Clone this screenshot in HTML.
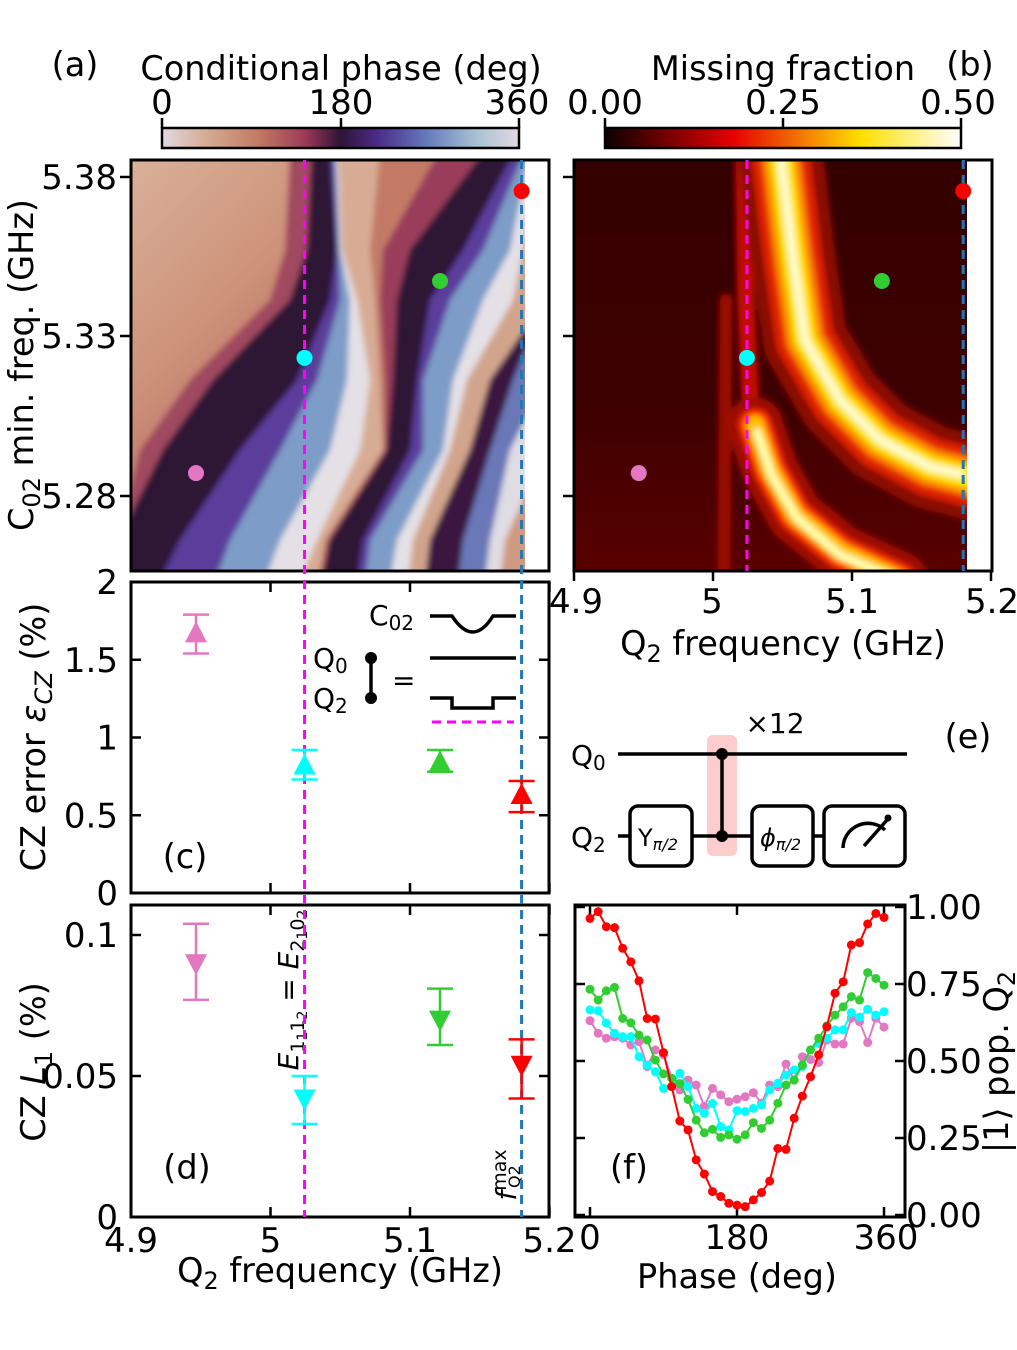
<!DOCTYPE html>
<html><head><meta charset="utf-8"><style>
html,body{margin:0;padding:0;background:#fff;}
svg{display:block;font-family:"DejaVu Sans","Liberation Sans",sans-serif;}
</style></head><body>
<svg id="fig" xmlns="http://www.w3.org/2000/svg" width="1017" height="1350" viewBox="0 0 1017 1350">
<defs>
<clipPath id="clipA"><rect x="131" y="160" width="394" height="411"/></clipPath>
<clipPath id="clipB"><rect x="574" y="160" width="393" height="411"/></clipPath>
<filter id="blur" x="-10%" y="-10%" width="120%" height="120%"><feGaussianBlur stdDeviation="3"/></filter>
<linearGradient id="cbA" x1="0" x2="1" y1="0" y2="0">
<stop offset="0" stop-color="#e2d9e2"/><stop offset="0.12" stop-color="#d6ac95"/><stop offset="0.27" stop-color="#c27a62"/>
<stop offset="0.4" stop-color="#9c3a58"/><stop offset="0.5" stop-color="#2f1436"/><stop offset="0.6" stop-color="#4b2a86"/>
<stop offset="0.74" stop-color="#6479bb"/><stop offset="0.88" stop-color="#a8c2d2"/><stop offset="1" stop-color="#e2d9e2"/>
</linearGradient>
<linearGradient id="cbB" x1="0" x2="1" y1="0" y2="0">
<stop offset="0" stop-color="#0b0000"/><stop offset="0.36" stop-color="#e60000"/><stop offset="0.72" stop-color="#ffe000"/><stop offset="1" stop-color="#ffffff"/>
</linearGradient>
<linearGradient id="baseA" x1="0" y1="0" x2="1" y2="1">
<stop offset="0" stop-color="#dab39d"/><stop offset="0.3" stop-color="#cd9279"/><stop offset="0.55" stop-color="#b5605f"/><stop offset="0.8" stop-color="#8e3358"/>
</linearGradient>
<linearGradient id="baseB" x1="0" y1="0" x2="0" y2="1">
<stop offset="0" stop-color="#330202"/><stop offset="0.6" stop-color="#3e0404"/><stop offset="1" stop-color="#5a0606"/>
</linearGradient>
</defs>

<!-- Panel (a) heatmap -->
<g clip-path="url(#clipA)">
<g id="heatA" filter="url(#blur)">
<rect x="120" y="150" width="420" height="430" fill="url(#baseA)"/>
</g>
</g>
<rect x="131" y="160" width="418" height="411" fill="none" stroke="#000" stroke-width="3"/>

<!-- Panel (b) heatmap -->
<g clip-path="url(#clipB)">
<g filter="url(#blur)" fill="none" stroke-linecap="round" stroke-linejoin="round">
<rect x="560" y="150" width="420" height="430" fill="url(#baseB)"/>
<path d="M726 300 L724 575" stroke="#9a0800" stroke-width="12"/>
<path d="M744 160 L746 300 L752 440" stroke="#c01000" stroke-width="16"/>
<path d="M755 425 L770 470 L795 515 L840 552 L900 580" stroke="#a00a00" stroke-width="55"/>
<path d="M755 425 L770 470 L795 515 L840 552 L900 580" stroke="#ff3000" stroke-width="32"/>
<path d="M755 425 L770 470 L795 515 L840 552 L900 580" stroke="#ffc000" stroke-width="19"/>
<path d="M757 432 L772 476 L797 518 L840 555 L900 580" stroke="#ffffb0" stroke-width="8"/>
<path d="M780 150 L792 250 L805 340 L840 400 L880 440 L930 467 L980 480" stroke="#8a0a00" stroke-width="84"/>
<path d="M780 150 L792 250 L805 340 L840 400 L880 440 L930 467 L980 480" stroke="#e02000" stroke-width="58"/>
<path d="M780 150 L792 250 L805 340 L840 400 L880 440 L930 467 L980 480" stroke="#ff8800" stroke-width="38"/>
<path d="M780 150 L792 250 L805 340 L840 400 L880 440 L930 467 L980 480" stroke="#ffe000" stroke-width="24"/>
<path d="M780 150 L792 250 L805 340 L840 400 L880 440 L930 467 L960 474" stroke="#fffccc" stroke-width="9"/>
</g>
</g>
<rect x="574" y="160" width="418" height="411" fill="none" stroke="#000" stroke-width="3"/>

<!-- colorbars -->
<rect x="162" y="128" width="357" height="20" fill="url(#cbA)" stroke="#000" stroke-width="2.5"/>
<rect x="605" y="128" width="356" height="20" fill="url(#cbB)" stroke="#000" stroke-width="2.5"/>
<g stroke="#000" stroke-width="2.5">
<line x1="162" y1="118" x2="162" y2="128"/><line x1="341" y1="118" x2="341" y2="128"/><line x1="519" y1="118" x2="519" y2="128"/>
<line x1="605" y1="118" x2="605" y2="128"/><line x1="783" y1="118" x2="783" y2="128"/><line x1="961" y1="118" x2="961" y2="128"/>
</g>
<g font-size="33.5" text-anchor="middle" fill="#000">
<text x="341" y="80">Conditional phase (deg)</text>
<text x="783" y="80">Missing fraction</text>
<g font-size="34">
<text x="162" y="114">0</text>
<text x="341" y="114">180</text>
<text x="517" y="114">360</text>
<text x="605" y="114">0.00</text>
<text x="783" y="114">0.25</text>
<text x="958" y="114">0.50</text>
</g>
<text x="75" y="76">(a)</text>
<text x="970" y="76">(b)</text>
<text x="968" y="748">(e)</text>
</g>

<!-- panel a/b axes ticks & labels -->
<g stroke="#000" stroke-width="2.5">
<line x1="120" y1="177" x2="131" y2="177"/><line x1="120" y1="336" x2="131" y2="336"/><line x1="120" y1="496" x2="131" y2="496"/>
<line x1="563" y1="177" x2="574" y2="177"/><line x1="563" y1="336" x2="574" y2="336"/><line x1="563" y1="496" x2="574" y2="496"/>
<line x1="574" y1="571" x2="574" y2="581"/><line x1="713" y1="571" x2="713" y2="581"/><line x1="852" y1="571" x2="852" y2="581"/><line x1="991" y1="571" x2="991" y2="581"/>
</g>
<g font-size="34" fill="#000">
<g text-anchor="end">
<text x="117" y="189">5.38</text>
<text x="117" y="348">5.33</text>
<text x="117" y="508">5.28</text>
</g>
<g text-anchor="middle">
<text x="576" y="613">4.9</text>
<text x="712" y="613">5</text>
<text x="852" y="613">5.1</text>
<text x="992" y="613">5.2</text>
<text x="783" y="655" font-size="33.5">Q<tspan font-size="24" dy="7">2</tspan><tspan dy="-7"> frequency (GHz)</tspan></text>
</g>
<text transform="translate(33,365) rotate(-90)" text-anchor="middle" font-size="33.5">C<tspan font-size="24" dy="7">02</tspan><tspan dy="-7"> min. freq. (GHz)</tspan></text>
</g>

<rect x="131" y="582" width="418" height="311" fill="none" stroke="#000" stroke-width="3"/>
<rect x="131" y="905" width="418" height="312" fill="none" stroke="#000" stroke-width="3"/>
<rect x="575" y="905" width="330" height="312" fill="none" stroke="#000" stroke-width="3"/>

<g font-size="33.5" fill="#000">
<text transform="translate(45,737) rotate(-90)" text-anchor="middle">CZ error <tspan font-style="italic">ε</tspan><tspan font-size="24" dy="7" font-style="italic">CZ</tspan><tspan dy="-7"> (%)</tspan></text>
<text transform="translate(45,1062) rotate(-90)" text-anchor="middle">CZ <tspan font-style="italic">L</tspan><tspan font-size="24" dy="7">1</tspan><tspan dy="-7"> (%)</tspan></text>
<text x="185" y="868" text-anchor="middle">(c)</text>
<text x="187" y="1179" text-anchor="middle">(d)</text>
<text x="629" y="1179" text-anchor="middle">(f)</text>
<text x="340" y="1282" text-anchor="middle">Q<tspan font-size="24" dy="7">2</tspan><tspan dy="-7"> frequency (GHz)</tspan></text>
<text x="737" y="1288" text-anchor="middle">Phase (deg)</text>
<text transform="translate(1008,1062) rotate(-90)" text-anchor="middle">|1⟩ pop. Q<tspan font-size="24" dy="7">2</tspan></text>
<text transform="translate(298,990) rotate(-90)" text-anchor="middle" font-size="28"><tspan font-style="italic">E</tspan><tspan font-size="19" dy="6">1</tspan><tspan font-size="14" dy="3">1</tspan><tspan font-size="19" dy="-3">1</tspan><tspan font-size="14" dy="3">2</tspan><tspan dy="-9"> = </tspan><tspan font-style="italic">E</tspan><tspan font-size="19" dy="6">2</tspan><tspan font-size="14" dy="3">1</tspan><tspan font-size="19" dy="-3">0</tspan><tspan font-size="14" dy="3">2</tspan></text>
<text transform="translate(516,1175) rotate(-90)" text-anchor="middle" font-size="28"><tspan font-style="italic">f</tspan><tspan font-size="19" dy="-10">max</tspan></text>
<text transform="translate(520,1188) rotate(-90)" font-size="16">Q2</text>
</g>

<!-- inset in c -->
<g stroke="#000" stroke-width="3.5" fill="none">
<path d="M430 616 L452 616 Q473 648 493 616 L516 616"/>
<line x1="430" y1="658" x2="516" y2="658"/>
<path d="M430 698 L452 698 L452 708 L493 708 L493 698 L516 698"/>
<line x1="371" y1="658" x2="371" y2="698"/>
<line x1="432" y1="722" x2="514" y2="722" stroke="#ff00ff" stroke-dasharray="9,6" stroke-width="3"/>
</g>
<g fill="#000"><circle cx="371" cy="658" r="6"/><circle cx="371" cy="698" r="6"/></g>
<g font-size="28" fill="#000">
<text x="369" y="625">C<tspan font-size="20" dy="5">02</tspan></text>
<text x="313" y="668">Q<tspan font-size="20" dy="5">0</tspan></text>
<text x="313" y="708">Q<tspan font-size="20" dy="5">2</tspan></text>
<text x="392" y="690">=</text>
</g>

<!-- panel e circuit -->
<g>
<rect x="707" y="735" width="30" height="121" rx="6" fill="#fdcccc"/>
<g stroke="#000" stroke-width="3.5" fill="none">
<line x1="618" y1="754" x2="907" y2="754"/>
<line x1="618" y1="836" x2="630" y2="836"/><line x1="692" y1="836" x2="752" y2="836"/><line x1="813" y1="836" x2="824" y2="836"/>
<line x1="722" y1="754" x2="722" y2="836"/>
<rect x="630" y="806" width="62" height="60" rx="8" fill="#fff"/>
<rect x="752" y="806" width="61" height="60" rx="8" fill="#fff"/>
<rect x="824" y="806" width="81" height="60" rx="8" fill="#fff"/>
<path d="M843 848 A25 25 0 0 1 885 830"/>
<line x1="864" y1="846" x2="887" y2="820"/>
</g>
<circle cx="722" cy="754" r="6"/><circle cx="722" cy="836" r="6"/>
<circle cx="888" cy="818" r="3.5"/>
</g>
<g font-size="28" fill="#000">
<text x="571" y="765">Q<tspan font-size="20" dy="5">0</tspan></text>
<text x="571" y="847">Q<tspan font-size="20" dy="5">2</tspan></text>
<text x="775" y="733" text-anchor="middle">×12</text>
<text x="638" y="846" font-size="24">Y<tspan font-size="16" dy="4" font-style="italic">π/2</tspan></text>
<text x="760" y="846" font-size="24"><tspan font-style="italic">ϕ</tspan><tspan font-size="16" dy="4" font-style="italic">π/2</tspan></text>
</g>

<g id="dyn"></g>
</svg>
<script>
const NS = "http://www.w3.org/2000/svg";
// Operating points (Q2 freq in GHz, C02 min freq in GHz)
const pointNames = ["pink", "cyan", "green", "red"];
const pointColors = ["#e377c2", "#00ffff", "#32cd32", "#ff0000"];
const q2Freqs = [4.9466, 5.0244, 5.1215, 5.180];
const c02Freqs = [5.2872, 5.3233, 5.3474, 5.3756];
// Panel c: CZ error (%)
const czError = [1.67, 0.82, 0.84, 0.63];
const czErrLo = [1.54, 0.73, 0.78, 0.52];
const czErrHi = [1.79, 0.92, 0.92, 0.72];
// Panel d: CZ leakage L1 (%)
const czLeak = [0.090, 0.042, 0.070, 0.054];
const czLeakLo = [0.077, 0.033, 0.061, 0.042];
const czLeakHi = [0.104, 0.050, 0.081, 0.063];
// Vertical reference lines
const resonanceFreq = 5.0244;
const maxFreq = 5.180;
// Panel f: phase sweep
const phases = [0,10,20,30,40,50,60,70,80,90,100,110,120,130,140,150,160,170,180,190,200,210,220,230,240,250,260,270,280,290,300,310,320,330,340,350,360];
const popRed = [0.963,0.985,0.936,0.933,0.866,0.822,0.760,0.638,0.636,0.527,0.417,0.305,0.276,0.179,0.133,0.076,0.060,0.038,0.032,0.027,0.049,0.073,0.110,0.216,0.213,0.314,0.386,0.449,0.520,0.611,0.720,0.757,0.877,0.884,0.945,0.979,0.966];
const popGreen = [0.733,0.698,0.728,0.739,0.638,0.624,0.584,0.568,0.503,0.458,0.444,0.427,0.375,0.308,0.267,0.278,0.252,0.260,0.246,0.260,0.300,0.281,0.308,0.363,0.422,0.438,0.487,0.536,0.574,0.614,0.649,0.676,0.709,0.698,0.787,0.768,0.746];
const popCyan = [0.666,0.663,0.623,0.590,0.579,0.579,0.514,0.487,0.465,0.411,0.417,0.460,0.417,0.346,0.330,0.362,0.287,0.276,0.339,0.336,0.346,0.357,0.406,0.428,0.455,0.471,0.482,0.536,0.557,0.574,0.601,0.601,0.657,0.642,0.668,0.649,0.660];
const popPink = [0.631,0.590,0.574,0.579,0.574,0.552,0.563,0.482,0.536,0.520,0.444,0.406,0.438,0.422,0.352,0.411,0.390,0.368,0.376,0.384,0.397,0.363,0.422,0.417,0.490,0.438,0.514,0.505,0.495,0.568,0.555,0.555,0.639,0.628,0.560,0.639,0.610];
const seriesF = [popPink, popCyan, popGreen, popRed];
// Tick labels
const freqTicks = [4.9, 5.0, 5.1, 5.2];
const freqTickLabels = ["4.9", "5", "5.1", "5.2"];
const cTicks = [0, 0.5, 1, 1.5, 2];
const cTickLabels = ["0", "0.5", "1", "1.5", "2"];
const dTicks = [0, 0.05, 0.1];
const dTickLabels = ["0", "0.05", "0.1"];
const fxTicks = [0, 180, 360];
const fxTickLabels = ["0", "180", "360"];
const fyTicks = [0, 0.25, 0.5, 0.75, 1.0];
const fyTickLabels = ["0.00", "0.25", "0.50", "0.75", "1.00"];

// Phase-map band boundaries (approximate contour traces, x in px at bandRows)
const bandRows = [150, 250, 300, 380, 450, 540, 580];
const bandColors = ["#a04860","#2f1236","#5b3c9c","#7e9cc8","#e4e0e6","#d8ac94",
  "#c27a66","#9a3e5a","#2f1236","#5b3c9c","#7e9cc8","#e4e0e6","#d2a48c","#3a1540","#6a78b8","#e0dce4","#cf9a82"];
const bandEdges = [
  [290,285,270,190,140,118,118],
  [312,307,290,213,163,118,118],
  [330,337,330,297,240,180,160],
  [334,338,340,317,280,230,215],
  [336,340,350,347,330,280,265],
  [338,342,357,370,360,317,300],
  [380,370,375,380,383,325,318],
  [440,383,380,385,385,328,320],
  [485,410,397,393,387,330,322],
  [515,463,430,417,410,363,357],
  [525,483,450,423,423,370,365],
  [530,510,483,453,443,397,390],
  [535,523,513,467,450,413,408],
  [545,545,545,490,470,430,425],
  [545,545,545,513,490,463,458],
  [545,545,545,545,510,490,485],
  [545,545,545,545,545,505,500]
];

const xA = f => 131 + (f - 4.9) * 1395;
const xB = f => 574 + (f - 4.9) * 1390;
const yA = v => 177 + (5.38 - v) * 3190;
const yC = v => 893 - v * 155.5;
const yD = v => 1217 - v * 2820;
const xF = p => 590 + p * 0.8167;
const yF = v => 1215 - v * 308;

const root = document.getElementById("dyn");
function mk(tag, attrs, parent) {
  const e = document.createElementNS(NS, tag);
  for (const k in attrs) e.setAttribute(k, attrs[k]);
  (parent || root).appendChild(e);
  return e;
}
function txt(x, y, s, anchor, parent) {
  const t = mk("text", {x: x, y: y, "font-size": 34, "text-anchor": anchor, fill: "#000"}, parent);
  t.textContent = s;
  return t;
}

const heatA = document.getElementById("heatA");
let el;
bandEdges.forEach((edge, k) => {
  let pts = edge.map((x, i) => x + "," + bandRows[i]);
  pts.push("560,580", "560,150");
  el = mk("polygon", {points: pts.join(" "), fill: bandColors[k]}, heatA);
  
  
});

el = mk("line", {x1: xA(resonanceFreq), x2: xA(resonanceFreq), y1: 160, y2: 1217, stroke: "#ff00ff", "stroke-width": 3, "stroke-dasharray": "9,6"});


el = mk("line", {x1: xA(maxFreq), x2: xA(maxFreq), y1: 160, y2: 1217, stroke: "#1f77b4", "stroke-width": 3, "stroke-dasharray": "9,6"});


el = mk("line", {x1: xB(resonanceFreq), x2: xB(resonanceFreq), y1: 160, y2: 571, stroke: "#ff00ff", "stroke-width": 3, "stroke-dasharray": "9,6"});


el = mk("line", {x1: xB(maxFreq), x2: xB(maxFreq), y1: 160, y2: 571, stroke: "#1f77b4", "stroke-width": 3, "stroke-dasharray": "9,6"});



for (let i = 0; i < q2Freqs.length; i++) {
  el = mk("circle", {cx: xA(q2Freqs[i]), cy: yA(c02Freqs[i]), r: 8, fill: pointColors[i]});
  
  
  el = mk("circle", {cx: xB(q2Freqs[i]), cy: yA(c02Freqs[i]), r: 8, fill: pointColors[i]});
  
  
}

function ticksXY(x0, x1, y0, y1, xs, ys) {
  const g = mk("g", {stroke: "#000", "stroke-width": 2.5});
  xs.forEach(x => { mk("line", {x1: x, x2: x, y1: y1, y2: y1 - 10}, g); mk("line", {x1: x, x2: x, y1: y0, y2: y0 + 10}, g); });
  ys.forEach(y => { mk("line", {x1: x0, x2: x0 + 10, y1: y, y2: y}, g); mk("line", {x1: x1, x2: x1 - 10, y1: y, y2: y}, g); });
  return g;
}
el = ticksXY(131, 549, 582, 893, freqTicks.map(xA), cTicks.map(yC));


el = ticksXY(131, 549, 905, 1217, freqTicks.map(xA), dTicks.map(yD));


el = ticksXY(575, 905, 905, 1217, fxTicks.map(xF), fyTicks.map(yF));



cTicks.forEach((v, i) => {
  el = txt(118, yC(v) + 12, cTickLabels[i], "end");
  
  
});
dTicks.forEach((v, i) => {
  el = txt(118, yD(v) + 12, dTickLabels[i], "end");
  
  
});
freqTicks.forEach((v, i) => {
  el = txt(xA(v), 1252, freqTickLabels[i], "middle");
  
  
});
fxTicks.forEach((v, i) => {
  el = txt(xF(v) + (i === 2 ? 2 : 0), 1249, fxTickLabels[i], "middle");
  
  
});
fyTicks.forEach((v, i) => {
  el = txt(906, yF(v) + 12, fyTickLabels[i], "start");
  
  
});

function marker(x, y, lo, hi, color, up) {
  const g = mk("g", {stroke: color, "stroke-width": 2.5, fill: color});
  mk("line", {x1: x, x2: x, y1: lo, y2: hi}, g);
  mk("line", {x1: x - 13, x2: x + 13, y1: lo, y2: lo}, g);
  mk("line", {x1: x - 13, x2: x + 13, y1: hi, y2: hi}, g);
  const p = up ? `${x},${y - 12} ${x - 11},${y + 9} ${x + 11},${y + 9}` : `${x},${y + 12} ${x - 11},${y - 9} ${x + 11},${y - 9}`;
  mk("polygon", {points: p, stroke: "none"}, g);
  return g;
}
for (let i = 0; i < q2Freqs.length; i++) {
  el = marker(xA(q2Freqs[i]), yC(czError[i]), yC(czErrLo[i]), yC(czErrHi[i]), pointColors[i], true);
  
  
  el = marker(xA(q2Freqs[i]), yD(czLeak[i]), yD(czLeakLo[i]), yD(czLeakHi[i]), pointColors[i], false);
  
  
}

for (let s = 0; s < seriesF.length; s++) {
  const g = mk("g", {fill: pointColors[s], stroke: pointColors[s]});
  
  
  const d = seriesF[s].map((v, i) => (i ? "L" : "M") + xF(phases[i]).toFixed(1) + " " + yF(v).toFixed(1)).join(" ");
  mk("path", {d: d, fill: "none", "stroke-width": 2}, g);
  seriesF[s].forEach((v, i) => {
    const c = mk("circle", {cx: xF(phases[i]), cy: yF(v), r: 4.5, stroke: "none"}, g);
    
    
  });
}
</script>
</body></html>
